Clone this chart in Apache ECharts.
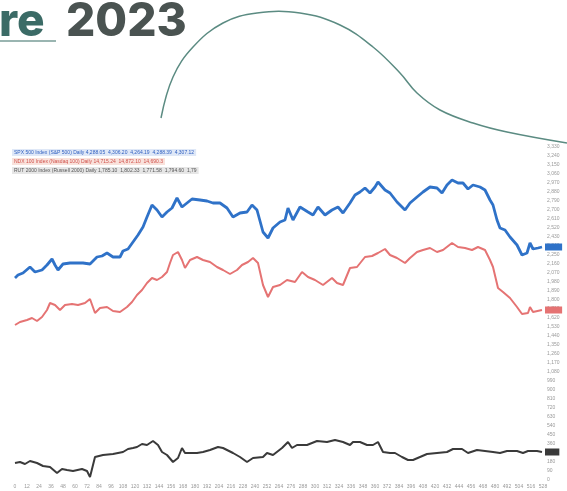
<!DOCTYPE html>
<html><head><meta charset="utf-8">
<script src="https://cdn.jsdelivr.net/npm/echarts@6/dist/echarts.min.js"></script>
<style>html,body{margin:0;padding:0;background:#fff}#c{width:567px;height:491px}</style>
</head><body><div id="c"></div>
<script>
// x = trading day index, y = index level
var blueData = [[0,2020],[3,2050],[8,2070],[15,2130],[20,2080],[27,2100],[32,2150],[37,2210],[40,2150],[43,2100],[48,2160],[55,2170],[62,2170],[68,2170],[75,2160],[82,2230],[87,2240],[92,2270],[98,2230],[105,2230],[108,2290],[113,2310],[118,2380],[123,2450],[128,2530],[132,2630],[137,2750],[142,2700],[147,2630],[152,2680],[157,2720],[162,2820],[167,2730],[172,2770],[177,2810],[185,2800],[192,2790],[198,2770],[205,2770],[212,2720],[218,2630],[225,2670],[232,2680],[237,2750],[242,2700],[248,2480],[253,2420],[258,2520],[265,2580],[270,2600],[273,2720],[278,2600],[285,2730],[293,2680],[298,2650],[303,2730],[310,2650],[317,2700],[323,2730],[328,2670],[335,2770],[340,2850],[345,2880],[350,2920],[355,2870],[360,2930],[363,2980],[370,2900],[375,2870],[382,2780],[390,2700],[395,2770],[402,2830],[408,2880],[415,2930],[422,2920],[427,2870],[432,2950],[437,3000],[443,2970],[448,2970],[453,2910],[458,2950],[465,2930],[470,2900],[475,2800],[478,2750],[482,2600],[485,2520],[490,2500],[495,2430],[502,2350],[507,2250],[512,2270],[515,2370],[518,2310],[523,2320],[527,2330]];
var redData = [[0,1550],[5,1580],[12,1600],[17,1620],[22,1590],[27,1630],[32,1700],[35,1770],[40,1750],[45,1700],[50,1750],[57,1760],[63,1750],[70,1770],[75,1810],[80,1670],[85,1720],[92,1730],[98,1690],[105,1680],[112,1730],[117,1780],[122,1850],[127,1900],[132,1970],[137,2020],[142,2000],[147,2030],[152,2080],[155,2170],[158,2250],[163,2280],[167,2200],[170,2120],[175,2200],[182,2230],[188,2200],[195,2180],[202,2130],[208,2100],[215,2060],[222,2100],[227,2150],[233,2180],[238,2220],[243,2170],[248,1950],[253,1830],[258,1930],[265,1950],[272,2000],[280,1980],[287,2080],[293,2030],[300,2000],[308,1950],[317,2020],[322,1970],[328,1950],[335,2120],[342,2130],[350,2230],[357,2240],[363,2270],[370,2310],[375,2250],[382,2220],[390,2170],[395,2220],[402,2280],[408,2300],[415,2320],[422,2280],[428,2300],[437,2370],[443,2330],[450,2320],[457,2300],[463,2330],[470,2300],[475,2200],[478,2130],[483,1920],[488,1880],[495,1820],[502,1730],[507,1660],[513,1670],[515,1730],[518,1680],[527,1700]];
var blackData = [[0,170],[5,180],[10,160],[15,190],[22,170],[28,140],[35,130],[42,70],[47,110],[52,100],[58,90],[67,110],[72,90],[75,30],[80,230],[88,250],[98,260],[108,280],[113,310],[118,320],[122,330],[127,360],[132,350],[138,390],[143,350],[147,280],[152,250],[158,180],[163,220],[167,320],[170,270],[175,270],[182,270],[188,280],[195,300],[203,330],[208,320],[218,270],[225,230],[232,180],[238,220],[248,230],[252,270],[258,250],[267,320],[273,380],[277,320],[282,350],[292,350],[302,390],[312,380],[320,400],[328,380],[335,350],[338,380],[345,380],[352,350],[358,350],[363,380],[368,280],[375,270],[380,270],[387,230],[393,200],[398,200],[405,230],[412,260],[422,270],[432,280],[438,310],[447,310],[453,270],[462,300],[470,290],[478,280],[485,270],[492,290],[502,290],[508,270],[513,290],[522,290],[527,280]];
var seriesNames = [
  'SPX 500 Index (S&P 500) Daily 4,288.05  4,306.20  4,264.19  4,288.39  4,307.12',
  'NDX 100 Index (Nasdaq 100) Daily 14,715.24  14,872.10  14,690.3',
  'RUT 2000 Index (Russell 2000) Daily 1,785.10  1,802.33  1,771.58  1,794.60  1,79'
];
var titleWord = 're';
var titleYear = '2023';
var xMin = 0, xMax = 528, xStep = 12;
var yMin = 0, yMax = 3330, yStep = 90;

var chart = echarts.init(document.getElementById('c'), null, {renderer:'canvas'});
var colors = ['#2f72c8', '#e57373', '#3a3a3a'];
function mk(i, data, w){
  return {
    name: seriesNames[i], type:'line', data:data, symbol:'none', smooth:false,
    lineStyle:{color:colors[i], width:w}, itemStyle:{color:colors[i]},
    endLabel:{show:true, distance:3, backgroundColor:colors[i], color:colors[i], fontSize:5,
      padding:[1,3], formatter:function(p){return p.value[1];}}
  };
}
chart.setOption({
  animation:false,
  grid:{left:15, right:24, top:147, bottom:11},
  legend:{
    orient:'vertical', left:2, top:144, itemWidth:0, itemHeight:0, itemGap:2,
    icon:'none', selectedMode:false,
    data:[
      {name:seriesNames[0], textStyle:{color:'#2f5fc0', backgroundColor:'#dfe8f7', fontSize:5, padding:[1,2]}},
      {name:seriesNames[1], textStyle:{color:'#d0504a', backgroundColor:'#f9e2dc', fontSize:5, padding:[1,2]}},
      {name:seriesNames[2], textStyle:{color:'#555', backgroundColor:'#e6e6e6', fontSize:5, padding:[1,2]}}
    ]
  },
  xAxis:{type:'value', min:xMin, max:xMax, interval:xStep,
    axisLine:{show:false}, axisTick:{show:false}, splitLine:{show:false},
    axisLabel:{fontSize:5, color:'#999', margin:4}},
  yAxis:{type:'value', position:'right', min:yMin, max:yMax, interval:yStep,
    axisLine:{show:false}, axisTick:{show:false}, splitLine:{show:false},
    axisLabel:{fontSize:5, color:'#999', margin:4}},
  series:[mk(0, blueData, 2.8), mk(1, redData, 2), mk(2, blackData, 2)],
  graphic:[
    {type:'text', left:-1, top:-1, style:{text:titleWord, font:'800 46px Inter', fill:'#3b6b66'}},
    {type:'text', left:66, top:-1, style:{text:titleYear, font:'800 46px Inter', fill:'#4a5351'}},
    {type:'line', shape:{x1:0, y1:41, x2:56, y2:41}, style:{stroke:'#9ab5b1', lineWidth:2}},
    {type:'polyline', shape:{smooth:0.4, points:[[161,118],[173,77],[193,47],[223,23],[257,13],[300,13],[340,25],[373,47],[400,73],[417,93],[440,110],[473,123],[507,132],[567,143]]},
      style:{stroke:'#5b8b82', lineWidth:1.5, fill:null}}
  ]
});
</script></body></html>
